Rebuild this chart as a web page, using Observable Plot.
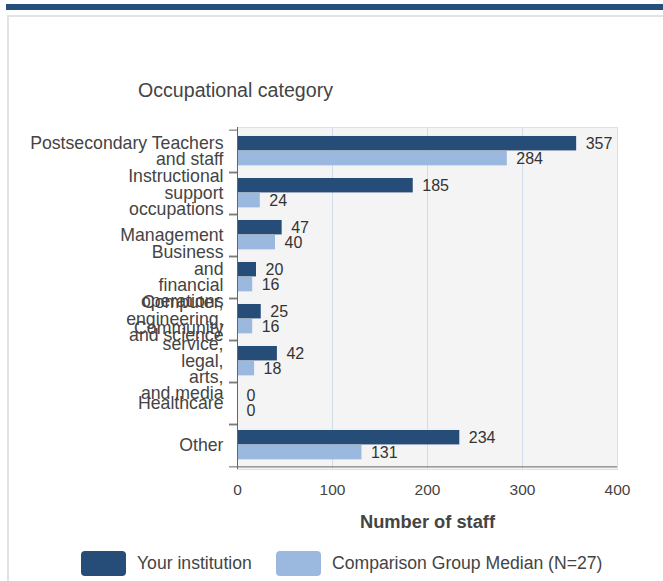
<!DOCTYPE html>
<html>
<head>
<meta charset="utf-8">
<script src="https://cdn.jsdelivr.net/npm/d3@7"></script>
<script src="https://cdn.jsdelivr.net/npm/@observablehq/plot@0.6"></script>
<style>
  html, body { margin: 0; padding: 0; background: #fff; width: 663px; height: 581px; overflow: hidden; }
  body { position: relative; font-family: "Liberation Sans", Arial, sans-serif; color: #444; }
  #band { position: absolute; left: 6px; right: 0; top: 4px; height: 6px; background: #264f7a; }
  #box { position: absolute; left: 7px; top: 15px; width: 700px; height: 620px; border: 2px solid #e3e3e3; box-sizing: border-box; }
  #title { position: absolute; left: 138px; top: 79px; font-size: 19.6px; line-height: 22px; color: #444; white-space: nowrap; }
  #chart { position: absolute; left: 0; top: 110px; }
  .sw { position: absolute; top: 551px; width: 45px; height: 25px; border-radius: 4px; }
  .lt { position: absolute; top: 552px; font-size: 17.6px; line-height: 22px; color: #444; white-space: nowrap; }
</style>
</head>
<body>
<div id="band"></div>
<div id="box"></div>
<div id="title">Occupational category</div>
<div id="chart"></div>
<div class="sw" style="left:81px;background:#254d78"></div>
<div class="lt" style="left:137px">Your institution</div>
<div class="sw" style="left:276px;background:#9bb9df"></div>
<div class="lt" style="left:332px">Comparison Group Median (N=27)</div>
<script>
const categories = [
  "Postsecondary Teachers and staff",
  "Instructional support occupations",
  "Management",
  "Business and financial operations",
  "Computer, engineering, and science",
  "Community service, legal, arts, and media",
  "Healthcare",
  "Other"
];
const categoryLabels = [
  "Postsecondary Teachers\nand staff",
  "Instructional\nsupport\noccupations",
  "Management",
  "Business\nand\nfinancial\noperations",
  "Computer,\nengineering,\nand science",
  "Community\nservice,\nlegal,\narts,\nand media",
  "Healthcare",
  "Other"
];
const institution = [357, 185, 47, 20, 25, 42, 0, 234];
const comparisonMedian = [284, 24, 40, 16, 16, 18, 0, 131];
const xTicks = [0, 100, 200, 300, 400];
const seriesNames = ["Your institution", "Comparison Group Median (N=27)"];
const darkBlue = "#254d78";
const lightBlue = "#9bb9df";

const instData = categories.map((c, i) => ({category: c, value: institution[i], series: seriesNames[0]}));
const compData = categories.map((c, i) => ({category: c, value: comparisonMedian[i], series: seriesNames[1]}));
const labelOf = new Map(categories.map((c, i) => [c, categoryLabels[i]]));

const W = 663, H = 430, mT = 17, mB = 71, mL = 237, mR = 46;
const bw = (H - mT - mB) / categories.length;

const chart = Plot.plot({
  width: W,
  height: H,
  marginTop: mT,
  marginBottom: mB,
  marginLeft: mL,
  marginRight: mR,
  style: {fontFamily: "'Liberation Sans', Arial, sans-serif", fontSize: "15px", color: "#444", background: "transparent", overflow: "visible"},
  x: {domain: [0, 400], axis: null},
  y: {domain: categories, padding: 0, axis: null},
  marks: [
    Plot.frame({fill: "#f4f4f4", stroke: "#e0e0e0"}),
    Plot.gridX(xTicks.slice(1, -1), {stroke: "#d3dcea", strokeOpacity: 1}),
    Plot.barX(instData, {y: "category", x: "value", fill: darkBlue, insetTop: bw * 0.14, insetBottom: bw * 0.505}),
    Plot.barX(compData, {y: "category", x: "value", fill: lightBlue, insetTop: bw * 0.49, insetBottom: bw * 0.155}),
    Plot.text(instData, {y: "category", x: "value", text: d => String(d.value), textAnchor: "start", dx: 9, dy: -8, fontSize: 16, fill: "#333"}),
    Plot.text(compData, {y: "category", x: "value", text: d => String(d.value), textAnchor: "start", dx: 9, dy: 7, fontSize: 16, fill: "#333"}),
    Plot.ruleX([0], {stroke: "#666"}),
    Plot.ruleY([categories[categories.length - 1]], {dy: bw / 2, stroke: "#666"}),
    Plot.axisY({anchor: "left", tickSize: 8, tickFormat: () => "", dy: -bw / 2, stroke: "#666", label: null}),
    Plot.axisY({anchor: "left", tickSize: 8, tickFormat: () => "", dy: bw / 2, stroke: "#666", label: null}),
    Plot.axisY({anchor: "left", tickSize: 0, tickPadding: 14, tickFormat: d => labelOf.get(d), fontSize: 17.7, lineHeight: 0.92, fill: "#444", label: null}),
    Plot.axisX({ticks: xTicks, tickSize: 0, tickPadding: 14, fontSize: 15.5, fill: "#444", label: null}),
    Plot.text(["Number of staff"], {frameAnchor: "bottom", dy: 58, fontSize: 18.3, fontWeight: "bold", fill: "#444"})
  ]
});
document.getElementById("chart").appendChild(chart);
</script>
</body>
</html>
